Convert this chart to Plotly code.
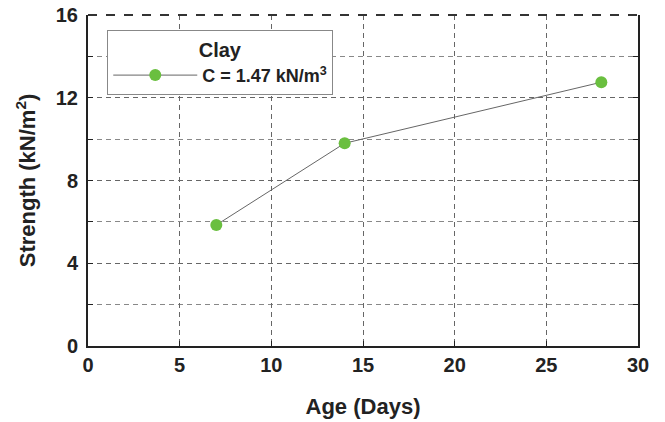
import plotly.graph_objects as go

age_days = [7, 14, 28]
strength = [5.85, 9.8, 12.75]
series_name = "C = 1.47 kN/m<sup>3</sup>"
legend_title = "Clay"
x_ticks = [0, 5, 10, 15, 20, 25, 30]
y_ticks = [0, 4, 8, 12, 16]

fig = go.Figure()
fig.add_trace(go.Scatter(
    x=age_days, y=strength, mode="lines+markers", name=series_name,
    line=dict(color="#666666", width=1),
    marker=dict(color="#6abf3f", size=12),
))

font_family = "Liberation Sans, Arial, sans-serif"
grid_dash = "5px,4px"
fig.update_layout(
    width=665, height=422,
    margin=dict(l=88, r=27, t=15, b=76, autoexpand=False),
    paper_bgcolor="white", plot_bgcolor="white",
    font=dict(family=font_family, color="#222222"),
    showlegend=True,
    legend=dict(
        x=0.035, y=0.955, xanchor="left", yanchor="top",
        bordercolor="#888888", borderwidth=1, bgcolor="white",
        font=dict(size=18, family=font_family, color="#222222", weight="bold"),
        title=dict(text="<b>" + legend_title + "</b>", side="top center", font=dict(size=20)),
        itemwidth=84,
    ),
    xaxis=dict(
        range=[0, 30], tickvals=x_ticks, automargin=False,
        showline=True, linecolor="#222222", linewidth=2, mirror=False,
        ticks="inside", ticklen=5, tickcolor="#222222",
        showgrid=True, gridcolor="#666666", griddash=grid_dash, gridwidth=1,
        tickfont=dict(size=20, weight="bold"),
        title=dict(text="<b>Age (Days)</b>", font=dict(size=22), standoff=24),
        zeroline=False,
    ),
    yaxis=dict(
        range=[0, 16], tickvals=y_ticks, automargin=False,
        showline=True, linecolor="#222222", linewidth=2, mirror="ticks",
        ticks="inside", ticklen=5, tickcolor="#222222",
        showgrid=True, gridcolor="#666666", griddash=grid_dash, gridwidth=1,
        minor=dict(dtick=2, ticks="inside", ticklen=5, tickcolor="#222222",
                   showgrid=True, gridcolor="#888888", griddash=grid_dash),
        tickfont=dict(size=20, weight="bold"),
        ticklabelstandoff=4,
        ticklabeloverflow="allow",
        title=dict(text="<b>Strength (kN/m<sup>2</sup>)</b>", font=dict(size=22), standoff=14),
        zeroline=False,
    ),
)
# dashed top border
fig.add_shape(type="line", xref="paper", yref="paper", x0=0, x1=1, y0=1, y1=1,
              line=dict(color="#333333", width=2, dash="dash"))

fig.write_html(
    "out.html",
    config={"displayModeBar": False},
    post_script="document.body.style.margin='0';document.body.style.overflow='hidden';",
)
